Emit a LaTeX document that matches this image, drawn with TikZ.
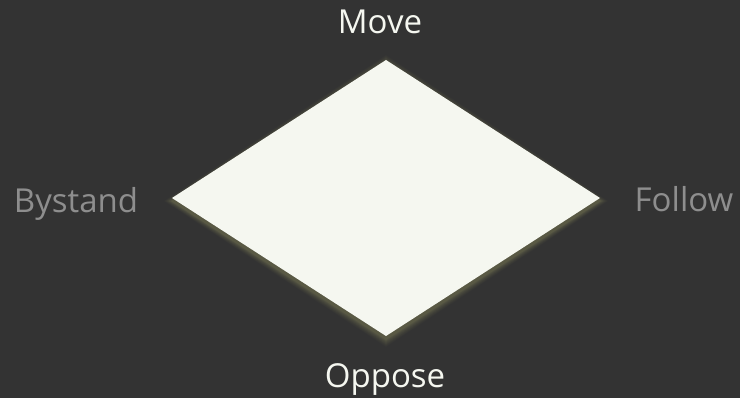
\documentclass[tikz,border=0pt]{standalone}
\usepackage{fontspec}
\setmainfont{Open Sans}
\definecolor{bgc}{HTML}{333333}
\definecolor{fillc}{HTML}{F5F7F0}
\definecolor{lightt}{HTML}{F5F7F0}
\definecolor{greyt}{HTML}{8E8E8E}
\definecolor{shadc}{HTML}{6E6E50}
\begin{document}
\begin{tikzpicture}[x=1pt,y=-1pt,
  lbl/.style={font=\fontsize{33}{38}\selectfont, inner sep=0pt, anchor=base},
  mainlbl/.style={lbl, text=lightt},
  sidelbl/.style={lbl, text=greyt}]
\fill[bgc] (0,0) rectangle (740,398);
\useasboundingbox (0,0) rectangle (740,398);
% shadow glow
\foreach \d/\o in {8/0.05,7/0.06,6/0.08,5/0.1,4/0.12,3/0.15,2/0.2,1/0.25}{
  \fill[shadc, opacity=\o] (386,{60-\d+3}) -- ({600+\d},{198+3}) -- (386,{336+\d+3}) -- ({172-\d},{198+3}) -- cycle;
}
\coordinate (top) at (386,60);
\coordinate (right) at (600,198);
\coordinate (bottom) at (386,336);
\coordinate (left) at (172,198);
\fill[fillc] (top) -- (right) -- (bottom) -- (left) -- cycle;
\node[mainlbl] (move) at (380,34) {Move};
\node[mainlbl] (oppose) at (385,388) {Oppose};
\node[sidelbl] (bystand) at (76,213) {Bystand};
\node[sidelbl] (follow) at (684,212) {Follow};
\end{tikzpicture}
\end{document}
